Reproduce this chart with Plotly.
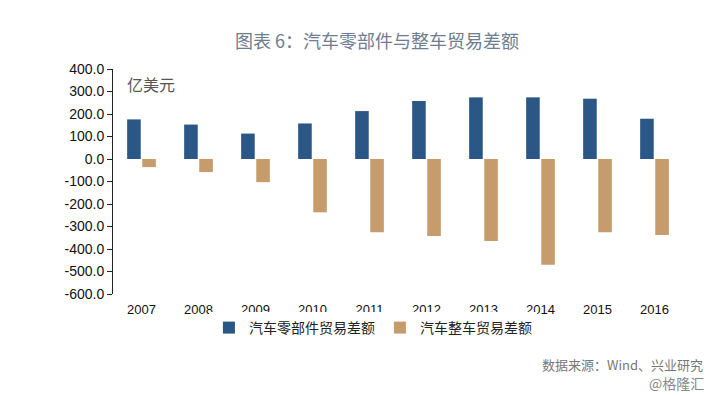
import plotly.graph_objects as go

years = ["2007", "2008", "2009", "2010", "2011", "2012", "2013", "2014", "2015", "2016"]
parts_balance = [176, 153, 113, 158, 213, 258, 274, 274, 268, 179]
vehicle_balance = [-36, -58, -103, -237, -326, -342, -364, -470, -326, -338]
series_names = ["汽车零部件贸易差额", "汽车整车贸易差额"]
y_ticks = [400, 300, 200, 100, 0, -100, -200, -300, -400, -500, -600]

BLUE = "#2B5786"
TAN = "#C69C6D"
CJK = "Noto Sans CJK SC"
LAT = "Liberation Sans"

fig = go.Figure()
fig.add_trace(go.Bar(x=years, y=parts_balance, name=series_names[0],
                     marker=dict(color=BLUE, line=dict(width=0))))
fig.add_trace(go.Bar(x=years, y=vehicle_balance, name=series_names[1],
                     marker=dict(color=TAN, line=dict(width=0))))

fig.update_layout(
    width=717, height=396,
    margin=dict(l=113, r=34, t=69, b=102),
    paper_bgcolor="white", plot_bgcolor="white",
    barmode="group", bargap=0.47, bargroupgap=0.1,
    title=dict(text="图表 6：汽车零部件与整车贸易差额",
               font=dict(family=CJK, size=18, color="#6E7D90"),
               x=377 / 717, xanchor="center", xref="container",
               y=1 - 42 / 396, yanchor="middle", yref="container"),
    xaxis=dict(type="category", categoryorder="array", categoryarray=years,
               showline=False, ticks="", showgrid=False, zeroline=False,
               tickfont=dict(family=LAT, size=13, color="#111"),
               ticklabelstandoff=6),
    xaxis2=dict(overlaying="x", anchor="free", position=0.6,
                range=[-0.5, len(years) - 0.5],
                tickvals=[i + 0.5 for i in range(len(years))],
                showticklabels=False, showline=True, linecolor="#222", linewidth=1,
                ticks="outside", ticklen=4, tickcolor="#222",
                showgrid=False, zeroline=False),
    yaxis=dict(range=[-600, 400], tickvals=y_ticks,
               ticktext=[f"{v:.1f}" for v in y_ticks],
               showline=True, linecolor="#222", linewidth=1,
               ticks="outside", ticklen=5, tickcolor="#222",
               showgrid=False, zeroline=False,
               tickfont=dict(family=LAT, size=14, color="#111")),
    legend=dict(orientation="h", x=0.456, xanchor="center",
                y=-34 / 225, yanchor="middle",
                font=dict(family=CJK, size=14, color="#222"),
                itemwidth=30, traceorder="normal"),
    showlegend=True,
    annotations=[
        dict(text="亿美元", x=(125 - 113) / 570, y=(294 - 84) / 225,
             xref="paper", yref="paper", xanchor="left", yanchor="middle",
             showarrow=False, font=dict(family=CJK, size=16, color="#555")),
        dict(text="数据来源：Wind、兴业研究", x=(705 - 113) / 570, y=(294 - 364) / 225,
             xref="paper", yref="paper", xanchor="right", yanchor="middle",
             showarrow=False, font=dict(family=CJK, size=13, color="#777")),
        dict(text="@格隆汇", x=(706 - 113) / 570, y=(294 - 383) / 225,
             xref="paper", yref="paper", xanchor="right", yanchor="middle",
             showarrow=False, font=dict(family=CJK, size=14, color="#888")),
    ],
)

fig.write_html("out.html", config={"displayModeBar": False},
               post_script="document.body.style.margin='0';")
